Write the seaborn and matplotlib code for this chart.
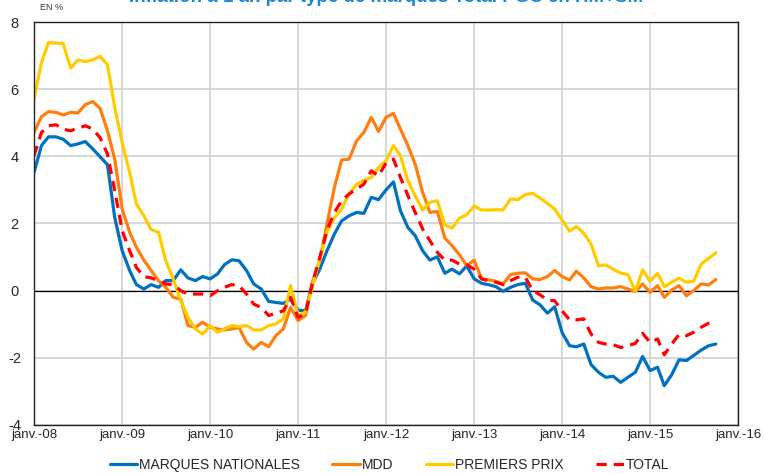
import numpy as np
import pandas as pd
import matplotlib
matplotlib.use('Agg')
import matplotlib.pyplot as plt
import seaborn as sns

# Inflation à 1 an (%), mensuel de janv. 2008 à oct. 2015
marques_nationales = [
    3.52, 4.32, 4.58, 4.58, 4.51, 4.32, 4.37, 4.44, 4.22, 3.99, 3.75, 2.18,
    1.19, 0.60, 0.18, 0.05, 0.18, 0.10, 0.30, 0.30, 0.62, 0.38, 0.30, 0.42,
    0.35, 0.50, 0.77, 0.92, 0.89, 0.60, 0.20, 0.05, -0.32, -0.35, -0.38, -0.25,
    -0.58, -0.60, 0.20, 0.64, 1.19, 1.69, 2.08, 2.23, 2.33, 2.30, 2.78, 2.71,
    3.00, 3.24, 2.38, 1.88, 1.64, 1.19, 0.91, 1.01, 0.52, 0.64, 0.50, 0.74,
    0.35, 0.22, 0.18, 0.12, -0.02, 0.10, 0.18, 0.22, -0.28, -0.42, -0.67, -0.48,
    -1.25, -1.64, -1.67, -1.59, -2.20, -2.43, -2.58, -2.55, -2.73, -2.58, -2.43, -1.96,
    -2.38, -2.28, -2.83, -2.50, -2.06, -2.08, -1.93, -1.77, -1.64, -1.59,
]
mdd = [
    4.71, 5.18, 5.33, 5.31, 5.23, 5.31, 5.29, 5.54, 5.63, 5.43, 4.76, 3.92,
    2.43, 1.74, 1.29, 0.91, 0.60, 0.30, 0.10, -0.20, -0.25, -1.04, -1.09, -0.94,
    -1.09, -1.14, -1.17, -1.14, -1.09, -1.54, -1.74, -1.54, -1.67, -1.34, -1.14, -0.50,
    -0.89, -0.74, 0.25, 0.89, 1.98, 3.08, 3.89, 3.92, 4.46, 4.71, 5.16, 4.74,
    5.16, 5.28, 4.81, 4.32, 3.77, 2.93, 2.33, 2.36, 1.57, 1.34, 1.07, 0.74,
    0.91, 0.35, 0.32, 0.28, 0.20, 0.48, 0.52, 0.53, 0.35, 0.33, 0.42, 0.60,
    0.42, 0.32, 0.58, 0.38, 0.12, 0.05, 0.08, 0.08, 0.12, 0.05, -0.03, 0.20,
    -0.05, 0.15, -0.20, 0.02, 0.15, -0.15, 0.00, 0.20, 0.17, 0.33,
]
premiers_prix = [
    5.70, 6.80, 7.39, 7.37, 7.36, 6.63, 6.87, 6.82, 6.87, 6.98, 6.73, 5.46,
    4.41, 3.52, 2.58, 2.23, 1.82, 1.74, 0.89, 0.35, -0.30, -0.79, -1.14, -1.29,
    -1.04, -1.24, -1.14, -1.04, -1.07, -1.04, -1.17, -1.17, -1.04, -0.99, -0.84, 0.15,
    -0.74, -0.64, 0.10, 0.94, 1.74, 2.18, 2.43, 2.88, 3.17, 3.29, 3.37, 3.67,
    3.87, 4.32, 4.02, 3.27, 2.83, 2.40, 2.63, 2.68, 1.96, 1.86, 2.16, 2.26,
    2.52, 2.40, 2.40, 2.41, 2.40, 2.73, 2.71, 2.86, 2.90, 2.76, 2.60, 2.43,
    2.10, 1.77, 1.91, 1.71, 1.39, 0.74, 0.77, 0.64, 0.52, 0.48, -0.02, 0.62,
    0.28, 0.52, 0.12, 0.25, 0.37, 0.25, 0.28, 0.79, 0.96, 1.13,
]
total = [
    4.02, 4.71, 4.91, 4.94, 4.81, 4.76, 4.84, 4.91, 4.81, 4.56, 4.07, 2.98,
    1.79, 1.19, 0.69, 0.42, 0.38, 0.30, 0.20, 0.18, 0.00, -0.10, -0.10, -0.10,
    -0.15, 0.00, 0.10, 0.18, 0.15, -0.10, -0.40, -0.50, -0.74, -0.67, -0.60, -0.20,
    -0.79, -0.69, 0.20, 0.99, 1.79, 2.33, 2.68, 2.88, 3.03, 3.17, 3.57, 3.42,
    3.80, 3.92, 3.37, 2.83, 2.33, 1.84, 1.49, 1.14, 0.91, 0.91, 0.79, 0.77,
    0.64, 0.35, 0.30, 0.25, 0.18, 0.30, 0.40, 0.40, 0.00, -0.12, -0.28, -0.30,
    -0.60, -0.87, -0.87, -0.84, -1.29, -1.54, -1.59, -1.61, -1.69, -1.64, -1.57, -1.27,
    -1.54, -1.44, -1.91, -1.59, -1.31, -1.34, -1.24, -1.09, -0.97, -0.91,
]

dates = pd.date_range('2008-01-01', periods=len(total), freq='MS')
years = list(range(2008, 2017))
tick_labels = [f'janv.-{y % 100:02d}' for y in years]

series = [
    ('MARQUES NATIONALES', marques_nationales, '#0070C0', '-'),
    ('MDD', mdd, '#FF7F0E', '-'),
    ('PREMIERS PRIX', premiers_prix, '#FFCC00', '-'),
    ('TOTAL', total, '#FF0000', (0, (3.2, 2.2))),
]

sns.set_style('white')
plt.rcParams['font.family'] = ['Liberation Sans', 'DejaVu Sans']

fig = plt.figure(figsize=(7.65, 4.73), dpi=100)
ax = fig.add_axes([34 / 765, 1 - 425 / 473, (738 - 34) / 765, (425 - 22) / 473])

for name, values, color, ls in series:
    sns.lineplot(x=dates, y=values, ax=ax, color=color, linewidth=2.3,
                 linestyle=ls, label=name)

ax.set_xlim(pd.Timestamp('2008-01-01'), pd.Timestamp('2016-01-01'))
ax.set_ylim(-4, 8)
ax.set_xticks([pd.Timestamp(f'{y}-01-01') for y in years])
ax.set_xticklabels(tick_labels, fontsize=9.5)
ax.set_yticks(np.arange(-4, 9, 2))
ax.set_yticklabels([str(v) for v in range(-4, 9, 2)], fontsize=10.5)
ax.tick_params(axis='x', length=0, pad=3)
ax.tick_params(axis='y', length=0, pad=14)
for lbl in ax.get_yticklabels():
    lbl.set_horizontalalignment('center')
ax.grid(True, color='#D4D4D4', linewidth=1.3)
ax.set_axisbelow(True)
ax.axhline(0, color='black', linewidth=0.9, zorder=1.5)
for sp in ax.spines.values():
    sp.set_color('#222222')
    sp.set_linewidth(1)
ax.set_xlabel('')
ax.set_ylabel('')

ax.legend(loc='upper center', bbox_to_anchor=(0.505, -0.05), ncol=4, frameon=False,
          fontsize=10, handlelength=2.0, columnspacing=2.3, handletextpad=0.15)

fig.text(0.505, 0.995, 'Inflation à 1 an par type de marques Total PGC en HM+SM',
         ha='center', va='baseline', fontsize=13.5, fontweight='bold', color='#1A8AD4')
fig.text(0.052, 0.985, 'EN %', ha='left', va='center', fontsize=6.5, color='#333333')

fig.savefig('out.png', dpi=100)
